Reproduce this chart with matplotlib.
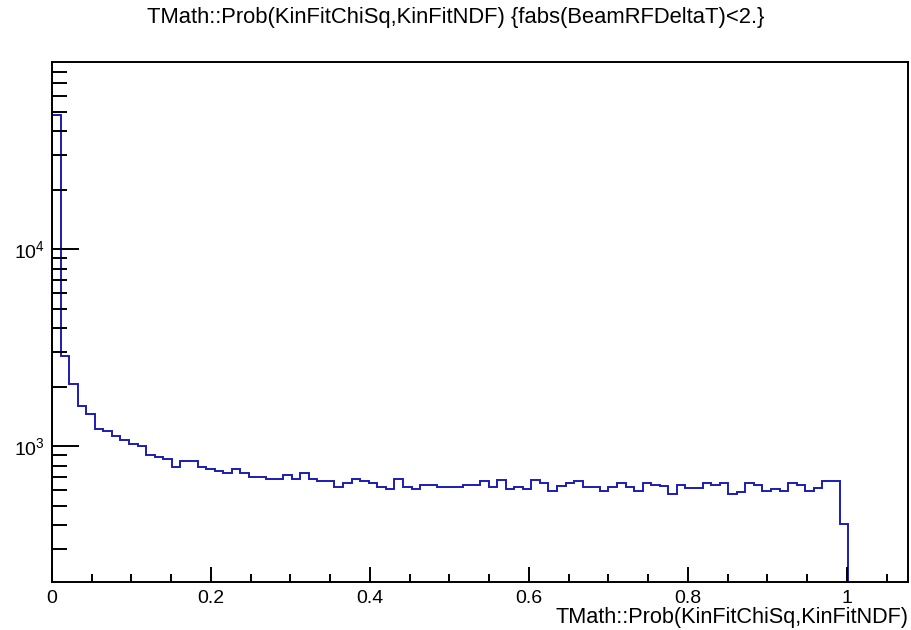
import numpy as np
import matplotlib
matplotlib.use("Agg")
import matplotlib.pyplot as plt
from matplotlib.ticker import LogLocator, FixedLocator, MultipleLocator, NullFormatter

plt.rcParams['font.family'] = ['Liberation Sans', 'DejaVu Sans']
plt.rcParams['mathtext.fontset'] = 'custom'
plt.rcParams['mathtext.rm'] = 'Liberation Sans'
plt.rcParams['mathtext.it'] = 'Liberation Sans:italic'
plt.rcParams['mathtext.bf'] = 'Liberation Sans:bold'

# TMath::Prob(KinFitChiSq,KinFitNDF) for |BeamRFDeltaT| < 2, 100 bins on [0, 1.077]
n_bins = 100
x_max = 1.077
counts = [
    48400, 2877, 2066, 1606, 1456, 1231, 1197, 1125, 1073, 1032,
    1000, 910, 889, 865, 790, 841, 841, 784, 766, 752,
    734, 766, 734, 703, 703, 687, 687, 720, 687, 734,
    687, 668, 668, 625, 650, 681, 666, 650, 625, 608,
    681, 625, 608, 640, 640, 625, 625, 625, 640, 640,
    666, 622, 678, 608, 620, 608, 676, 650, 597, 633,
    650, 666, 625, 625, 597, 625, 650, 625, 597, 650,
    640, 632, 574, 640, 613, 613, 655, 640, 655, 574,
    590, 655, 640, 597, 608, 597, 655, 640, 597, 613,
    670, 670, 406,
]
y_range = (205, 89500)
x_ticks = [0, 0.2, 0.4, 0.6, 0.8, 1]
x_labels = ['0', '0.2', '0.4', '0.6', '0.8', '1']

bin_w = x_max / n_bins
edges = np.arange(len(counts) + 1) * bin_w

fig = plt.figure(figsize=(9.11, 6.30), dpi=100)
ax = fig.add_axes([52 / 911, 1 - 582 / 630, 856 / 911, 520 / 630])

ax.stairs(counts, edges, baseline=y_range[0], color='#1c1cb4', lw=1.4)

ax.set_yscale('log')
ax.set_xlim(0, x_max)
ax.set_ylim(*y_range)

ax.xaxis.set_major_locator(FixedLocator(x_ticks))
ax.set_xticklabels(x_labels)
ax.xaxis.set_minor_locator(MultipleLocator(0.05))
ax.yaxis.set_major_locator(LogLocator(base=10))
ax.yaxis.set_minor_locator(LogLocator(base=10, subs=np.arange(2, 10)))
ax.yaxis.set_minor_formatter(NullFormatter())

ax.tick_params(axis='both', which='both', direction='in', width=1.4,
               top=False, right=False, labelsize=14, colors='black')
ax.tick_params(axis='x', which='major', length=11, pad=5.5)
ax.tick_params(axis='x', which='minor', length=6)
ax.tick_params(axis='y', which='major', length=19.5, pad=5)
ax.tick_params(axis='y', which='minor', length=11)
for s in ax.spines.values():
    s.set_linewidth(1.4)

fig.text(0.5, 1 - 18 / 630, 'TMath::Prob(KinFitChiSq,KinFitNDF) {fabs(BeamRFDeltaT)<2.}',
         ha='center', va='center', fontsize=15.8)
fig.text(908 / 911, 1 - 617 / 630, 'TMath::Prob(KinFitChiSq,KinFitNDF)',
         ha='right', va='center', fontsize=15.6)

fig.savefig('out.png', dpi=100)
